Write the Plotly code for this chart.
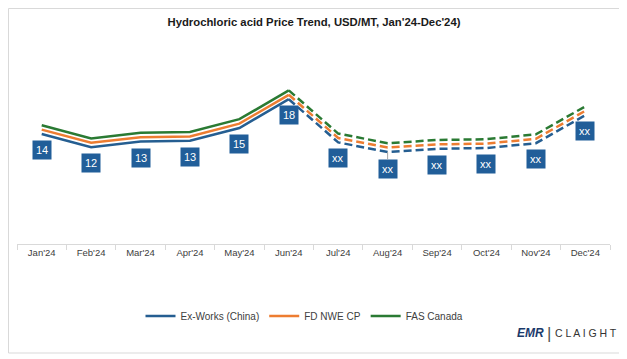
import plotly.graph_objects as go

months = ["Jan'24", "Feb'24", "Mar'24", "Apr'24", "May'24", "Jun'24",
          "Jul'24", "Aug'24", "Sep'24", "Oct'24", "Nov'24", "Dec'24"]
ex_works_china = [13.75, 12.1, 12.8, 12.9, 14.5, 18.1, 12.7, 11.5, 11.9, 12.0, 12.6, 16.1]
fd_nwe_cp = [14.3, 12.65, 13.35, 13.45, 15.05, 18.65, 13.25, 12.05, 12.45, 12.55, 13.15, 16.65]
fas_canada = [14.85, 13.2, 13.9, 14.0, 15.6, 19.2, 13.8, 12.6, 13.0, 13.1, 13.7, 17.2]
point_labels = ["14", "12", "13", "13", "15", "18", "xx", "xx", "xx", "xx", "xx", "xx"]
forecast_start = 5  # Jun'24 onwards dashed

series = [
    ("Ex-Works (China)", ex_works_china, "#255E91"),
    ("FD NWE CP", fd_nwe_cp, "#ED7D31"),
    ("FAS Canada", fas_canada, "#2A7A33"),
]

# page body has an 8px default margin: work in figure coords = screen - 8
OFF = 8
W, H = 627 - OFF, 359 - OFF
L, T = 17 - OFF, 44 - OFF
pw, ph = 593, 200
R = W - L - pw
B = H - T - ph

def px(xs):
    return (xs - OFF - L) / pw

def py(ys):
    return (T + ph - (ys - OFF)) / ph

fig = go.Figure()
for name, vals, color in series:
    fig.add_trace(go.Scatter(
        x=months[:forecast_start + 1], y=vals[:forecast_start + 1],
        mode="lines", name=name, line=dict(color=color, width=2.5),
        showlegend=True, legendgroup=name))
    fig.add_trace(go.Scatter(
        x=months[forecast_start:], y=vals[forecast_start:],
        mode="lines", name=name, line=dict(color=color, width=2.5, dash="8px,4px"),
        showlegend=False, legendgroup=name))

for m, v, lab in zip(months, ex_works_china, point_labels):
    if m == "Aug'24":
        fig.add_annotation(x=m, y=v, text=lab, showarrow=True, arrowhead=0,
                           arrowcolor="#A6A6A6", arrowwidth=1, ax=0, ay=17,
                           bgcolor="#215E99", borderpad=3,
                           font=dict(color="white", size=11, family="Liberation Sans"))
    else:
        fig.add_annotation(x=m, y=v, text=lab, showarrow=False, yshift=-16,
                           bgcolor="#215E99", borderpad=3,
                           font=dict(color="white", size=11, family="Liberation Sans"))

# chart border
fig.add_shape(type="rect", xref="paper", yref="paper",
              x0=px(8.5), x1=px(624), y0=py(353), y1=py(8.5),
              line=dict(color="#D9D9D9", width=1), fillcolor="rgba(0,0,0,0)", layer="below")

# Logo
fig.add_annotation(xref="paper", yref="paper", x=px(546), y=py(333), text="<b><i>EMR</i></b>",
                   showarrow=False, xanchor="right", yanchor="middle",
                   font=dict(color="#1B3A6B", size=12, family="Liberation Sans"))
fig.add_annotation(xref="paper", yref="paper", x=px(549), y=py(333), text="|",
                   showarrow=False, xanchor="center", yanchor="middle",
                   font=dict(color="#555555", size=17, family="Liberation Sans"))
fig.add_annotation(xref="paper", yref="paper", x=px(553), y=py(333), text="C L A I G H T",
                   showarrow=False, xanchor="left", yanchor="middle",
                   font=dict(color="#333333", size=10.5, family="Liberation Sans"))

fig.update_layout(
    width=W, height=H,
    margin=dict(l=L, r=R, t=T, b=B, autoexpand=False),
    paper_bgcolor="white", plot_bgcolor="white",
    title=dict(text="<b>Hydrochloric acid Price Trend, USD/MT, Jan'24-Dec'24)</b>",
               x=(314 - OFF) / W, xanchor="center", y=1 - (22 - OFF) / H, yanchor="middle",
               font=dict(size=11.3, color="#1a1a1a", family="Liberation Sans")),
    xaxis=dict(range=[-0.5, 11.5], showgrid=False, showline=True, linecolor="#D9D9D9", linewidth=1,
               ticks="outside", tickson="boundaries", ticklen=5, tickcolor="#D9D9D9",
               tickfont=dict(size=9.5, color="#404040", family="Liberation Sans"),
               zeroline=False, fixedrange=True),
    yaxis=dict(range=[0, 25], visible=False, fixedrange=True),
    legend=dict(orientation="h", x=px(304.5), xanchor="center", y=py(316), yanchor="middle",
                font=dict(size=10, color="#404040", family="Liberation Sans"),
                itemwidth=30, tracegroupgap=0),
    showlegend=True,
)

fig.write_html("out.html")
